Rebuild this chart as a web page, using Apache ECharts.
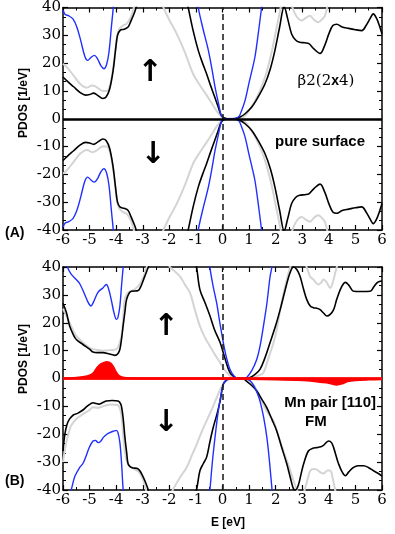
<!DOCTYPE html>
<html>
<head>
<meta charset="utf-8">
<script src="https://cdn.jsdelivr.net/npm/echarts@6/dist/echarts.min.js"></script>
<style>
  html, body { margin: 0; padding: 0; background: #fff; }
  #pdos { width: 395px; height: 534px; }
</style>
</head>
<body>
<div id="pdos"></div>
<script>
// ---- panel (A): beta2(2x4) pure surface, [E, PDOS] ----
const aBlackUp = [[-6,15],[-5.85,13.6],[-5.6,11.5],[-5.35,9.4],[-5.15,8.5],[-5.0,8.7],[-4.85,9.2],[-4.7,8.4],[-4.5,7.3],[-4.38,7.8],[-4.25,10.5],[-4.12,17],[-4.02,25],[-3.95,30],[-3.85,31.8],[-3.7,32.2],[-3.55,33],[-3.45,35],[-3.3,38.5],[-3.2,41.5],[-3.0,48],[-2.5,60],[-1.8,58],[-1.45,47],[-1.29,40],[-1.1,31.5],[-0.91,24.5],[-0.75,20],[-0.6,16.2],[-0.45,12],[-0.3,8],[-0.16,4.2],[-0.05,1.3],[0.1,0.2],[0.3,0],[0.5,0.1],[0.66,0.6],[0.85,1.8],[1.1,4.2],[1.35,8],[1.6,12.6],[1.8,18],[1.97,24.5],[2.15,33],[2.32,40.3],[2.45,36],[2.6,30.5],[2.75,28.3],[2.9,27.5],[3.1,27.3],[3.25,27],[3.45,25],[3.67,23.5],[3.85,26.5],[4.0,30.5],[4.15,33.5],[4.3,34],[4.5,33],[4.75,32.5],[5.0,32],[5.24,31.7],[5.4,33.5],[5.55,36],[5.67,37.7],[5.8,36],[5.9,33.5],[6,30.5]];
const aBlackDn = [[-6,-15],[-5.85,-13.6],[-5.6,-11.5],[-5.35,-9.4],[-5.15,-8.5],[-5.0,-8.7],[-4.85,-9.2],[-4.7,-8.4],[-4.5,-7.3],[-4.38,-7.8],[-4.25,-10.5],[-4.12,-17],[-4.02,-25],[-3.95,-30],[-3.85,-31.8],[-3.7,-32.2],[-3.55,-33],[-3.45,-35],[-3.3,-38.5],[-3.2,-41.5],[-3.0,-48],[-2.5,-60],[-1.8,-58],[-1.45,-47],[-1.29,-40],[-1.1,-31.5],[-0.91,-24.5],[-0.75,-20],[-0.6,-16.2],[-0.45,-12],[-0.3,-8],[-0.16,-4.2],[-0.05,-1.3],[0.1,-0.2],[0.3,0],[0.5,-0.1],[0.66,-0.6],[0.85,-1.8],[1.1,-4.2],[1.35,-8],[1.6,-12.6],[1.8,-18],[1.97,-24.5],[2.15,-33],[2.32,-40.3],[2.45,-36],[2.6,-30.5],[2.75,-28.3],[2.9,-27.5],[3.1,-27.3],[3.25,-27],[3.45,-25],[3.67,-23.5],[3.85,-26.5],[4.0,-30.5],[4.15,-33.5],[4.3,-34],[4.5,-33],[4.75,-32.5],[5.0,-32],[5.24,-31.7],[5.4,-33.5],[5.55,-36],[5.67,-37.7],[5.8,-36],[5.9,-33.5],[6,-30.5]];
const aGrayUp = [[-6,19.8],[-5.85,18.5],[-5.6,15.5],[-5.35,12.5],[-5.1,11.2],[-4.9,12],[-4.75,11.5],[-4.5,10],[-4.35,10],[-4.22,12.5],[-4.1,19],[-4.0,27],[-3.9,32],[-3.75,33.5],[-3.6,34.2],[-3.45,36.5],[-3.32,40.5],[-3.0,50],[-2.6,50],[-2.3,42],[-2.2,39.5],[-2.0,35.5],[-1.72,30.5],[-1.4,23.5],[-1.1,16],[-0.88,12.5],[-0.6,8.5],[-0.4,5.5],[-0.2,2.5],[0,0.5],[0.2,0],[0.5,0],[0.72,0.2],[0.95,2.3],[1.2,6],[1.45,11],[1.65,16.5],[1.85,24],[2.0,31],[2.15,38],[2.25,42],[2.45,44],[2.62,40.2],[2.73,37.7],[2.85,36],[2.98,35.3],[3.12,36.2],[3.29,37],[3.45,35.5],[3.6,34.7],[3.75,35.8],[3.85,37],[3.95,40.5],[4.1,46],[5,50],[6,50]];
const aGrayDn = [[-6,-19.8],[-5.85,-18.5],[-5.6,-15.5],[-5.35,-12.5],[-5.1,-11.2],[-4.9,-12],[-4.75,-11.5],[-4.5,-10],[-4.35,-10],[-4.22,-12.5],[-4.1,-19],[-4.0,-27],[-3.9,-32],[-3.75,-33.5],[-3.6,-34.2],[-3.45,-36.5],[-3.32,-40.5],[-3.0,-50],[-2.6,-50],[-2.3,-42],[-2.2,-39.5],[-2.0,-35.5],[-1.72,-30.5],[-1.4,-23.5],[-1.1,-16],[-0.88,-12.5],[-0.6,-8.5],[-0.4,-5.5],[-0.2,-2.5],[0,-0.5],[0.2,0],[0.5,0],[0.72,-0.2],[0.95,-2.3],[1.2,-6],[1.45,-11],[1.65,-16.5],[1.85,-24],[2.0,-31],[2.15,-38],[2.25,-42],[2.45,-44],[2.62,-40.2],[2.73,-37.7],[2.85,-36],[2.98,-35.3],[3.12,-36.2],[3.29,-37],[3.45,-35.5],[3.6,-34.7],[3.75,-35.8],[3.85,-37],[3.95,-40.5],[4.1,-46],[5,-50],[6,-50]];
const aBlueUp = [[-6,39],[-5.92,37.5],[-5.78,37],[-5.62,35.8],[-5.48,33],[-5.33,28],[-5.18,22.5],[-5.07,21],[-4.95,22],[-4.82,22.8],[-4.7,21.5],[-4.57,19],[-4.46,18],[-4.36,19.5],[-4.27,24],[-4.18,33],[-4.1,41],[-4.0,55],[-3,70],[-1.2,70],[-1.0,48],[-0.91,40],[-0.75,33],[-0.53,24.5],[-0.4,18],[-0.28,11.4],[-0.15,5.5],[-0.03,0.8],[0.1,0],[0.35,0],[0.6,0.6],[0.72,3],[0.85,6.6],[1.0,13],[1.1,17],[1.22,22.2],[1.35,31],[1.47,40],[1.6,50],[2,70],[6,70]];
const aBlueDn = [[-6,-39],[-5.92,-37.5],[-5.78,-37],[-5.62,-35.8],[-5.48,-33],[-5.33,-28],[-5.18,-22.5],[-5.07,-21],[-4.95,-22],[-4.82,-22.8],[-4.7,-21.5],[-4.57,-19],[-4.46,-18],[-4.36,-19.5],[-4.27,-24],[-4.18,-33],[-4.1,-41],[-4.0,-55],[-3,-70],[-1.2,-70],[-1.0,-48],[-0.91,-40],[-0.75,-33],[-0.53,-24.5],[-0.4,-18],[-0.28,-11.4],[-0.15,-5.5],[-0.03,-0.8],[0.1,0],[0.35,0],[0.6,-0.6],[0.72,-3],[0.85,-6.6],[1.0,-13],[1.1,-17],[1.22,-22.2],[1.35,-31],[1.47,-40],[1.6,-50],[2,-70],[6,-70]];

// ---- panel (B): Mn pair [110] FM ----
const bBlackUp = [[-6,27],[-5.87,23.6],[-5.75,18.8],[-5.6,15.5],[-5.5,14],[-5.25,12.2],[-5.0,10.5],[-4.87,9.5],[-4.7,9.3],[-4.5,9.3],[-4.25,8.8],[-4.05,8.3],[-3.93,9],[-3.86,10.5],[-3.8,14],[-3.74,18.8],[-3.67,24],[-3.61,28.3],[-3.5,30.8],[-3.42,31.3],[-3.17,31.6],[-3.05,33.5],[-2.95,36],[-2.85,38.5],[-2.75,41],[-2.5,50],[-1.5,50],[-1.05,43],[-0.97,39.6],[-0.85,31.9],[-0.65,27],[-0.47,22.4],[-0.3,17.5],[-0.09,12.9],[0.1,7],[0.28,2.1],[0.45,0.5],[0.6,0],[0.9,0],[1.04,0.4],[1.2,1.3],[1.41,3.3],[1.6,7.5],[1.79,12.9],[2.0,19],[2.17,24.7],[2.35,31.5],[2.54,37.9],[2.67,40],[2.8,39],[2.92,36.6],[3.05,32],[3.17,28.3],[3.3,26],[3.42,25.4],[3.55,25.2],[3.67,24.7],[3.8,23.5],[3.93,22.4],[4.05,23],[4.18,24.7],[4.3,28.5],[4.43,31.9],[4.55,34],[4.62,34.5],[4.75,33.5],[4.93,31.3],[5.2,31.2],[5.56,31.3],[5.7,33],[5.81,34.3],[5.9,34.8],[6,35]];
const bBlackDn = [[-6,-26],[-5.93,-20],[-5.85,-16.5],[-5.75,-14.5],[-5.6,-13],[-5.45,-12.5],[-5.25,-11.3],[-5.1,-10],[-4.95,-9],[-4.87,-8.7],[-4.75,-9],[-4.65,-9.2],[-4.5,-8.6],[-4.37,-8.1],[-4.15,-7.9],[-3.93,-8.1],[-3.85,-8.8],[-3.8,-10],[-3.74,-14],[-3.67,-21.2],[-3.6,-27],[-3.55,-30.7],[-3.45,-31.8],[-3.36,-32.1],[-3.2,-32.3],[-3.11,-33.1],[-3.0,-35],[-2.92,-36.7],[-2.8,-39.7],[-2.7,-43],[-2,-50],[-1.2,-48],[-0.97,-39.6],[-0.85,-33.1],[-0.72,-30.5],[-0.6,-28.3],[-0.48,-23],[-0.35,-17.6],[-0.2,-12.5],[-0.09,-8.1],[0.03,-2.1],[0.16,-0.5],[0.3,0],[0.75,0],[0.91,-1],[1.1,-2.5],[1.29,-4.5],[1.47,-7.3],[1.67,-10.5],[1.85,-14.5],[2.04,-18.8],[2.22,-24.5],[2.42,-30.7],[2.55,-35.5],[2.67,-39.6],[2.75,-40],[2.86,-38],[2.95,-34.5],[3.05,-30.7],[3.23,-26],[3.4,-25],[3.55,-24.8],[3.7,-24.5],[3.8,-24],[3.99,-22.4],[4.1,-23],[4.18,-24.8],[4.28,-28],[4.37,-30.7],[4.5,-33.5],[4.62,-34.9],[4.75,-33.5],[4.93,-31.9],[5.1,-31.3],[5.31,-31.3],[5.5,-32],[5.68,-33.1],[5.85,-34],[6,-35]];
const bGrayUp = [[-6,25],[-5.87,22.5],[-5.75,20],[-5.55,16],[-5.37,14],[-5.2,12.5],[-5.0,11],[-4.75,10.3],[-4.5,10],[-4.2,10.2],[-3.99,10.5],[-3.9,12],[-3.8,15.2],[-3.74,21],[-3.68,28.3],[-3.58,30.5],[-3.49,31.3],[-3.3,32],[-3.1,34],[-2.95,37],[-2.85,40],[-2.7,44],[-2.3,46],[-1.98,40],[-1.8,38.5],[-1.6,36.6],[-1.4,33.5],[-1.22,30.7],[-1.05,25],[-0.85,18.8],[-0.65,14.5],[-0.47,11.6],[-0.28,8.5],[-0.09,5.7],[0.16,2.1],[0.35,0.6],[0.55,0],[0.9,0],[1.16,0.4],[1.35,1],[1.54,2.1],[1.7,6.5],[1.92,12.9],[2.05,18],[2.17,24.7],[2.3,30.5],[2.42,35.5],[2.55,40],[2.7,43],[3.0,43],[3.2,39],[3.3,36.5],[3.42,35.5],[3.52,34.3],[3.61,33.7],[3.7,34.3],[3.8,35.5],[3.92,34.5],[4.05,32.5],[4.15,34.5],[4.24,37.9],[4.3,40],[4.4,44],[6,50]];
const bGrayDn = [[-6,-30],[-5.9,-24],[-5.8,-20],[-5.7,-17],[-5.5,-14.5],[-5.25,-12.8],[-5.0,-11.3],[-4.87,-10.3],[-4.7,-10.5],[-4.5,-10],[-4.2,-9.3],[-3.95,-9.5],[-3.85,-11],[-3.78,-15],[-3.72,-22],[-3.62,-29],[-3.5,-31.5],[-3.35,-32.3],[-3.15,-33.5],[-3.0,-36],[-2.9,-39],[-2.75,-44],[-2.3,-48],[-1.85,-39.6],[-1.6,-35.5],[-1.35,-31.9],[-1.15,-27.5],[-0.97,-23.6],[-0.8,-19.5],[-0.6,-15.2],[-0.4,-11],[-0.22,-6.9],[-0.05,-3.2],[0.1,-1.2],[0.3,-0.2],[0.8,-0.2],[1.0,-0.8],[1.16,-2.1],[1.3,-4.5],[1.41,-6.9],[1.6,-10.5],[1.75,-13],[1.92,-15.2],[2.1,-20.5],[2.29,-26],[2.5,-31.5],[2.67,-36.7],[2.8,-40],[2.95,-43],[3.15,-38],[3.3,-33.1],[3.45,-32.5],[3.55,-32.7],[3.7,-33.8],[3.8,-34.1],[3.95,-33],[4.05,-33],[4.15,-36],[4.24,-40],[4.4,-46],[6,-50]];
const bBlueUp = [[-6,48],[-5.85,40.5],[-5.7,37.5],[-5.5,35.5],[-5.37,34],[-5.2,30.5],[-5.05,27.2],[-4.95,26],[-4.85,27.5],[-4.68,31],[-4.5,32.5],[-4.37,33.7],[-4.28,32],[-4.18,28],[-4.08,23.5],[-3.99,21.2],[-3.93,22],[-3.86,26],[-3.8,33],[-3.74,39.6],[-3.65,48],[-2,60],[-0.6,50],[-0.47,39.6],[-0.35,33],[-0.22,27.1],[-0.1,20],[0.03,12.9],[0.15,7.5],[0.28,3.3],[0.45,0.7],[0.6,0],[0.8,0],[0.91,0.4],[1.1,2.8],[1.29,6.9],[1.42,12],[1.54,18.8],[1.67,27],[1.79,36.6],[1.86,40],[1.95,46],[3,60],[6,60]];
const bBlueDn = [[-6,-55],[-5.8,-44],[-5.68,-39.6],[-5.55,-35],[-5.37,-31.9],[-5.25,-30.5],[-5.12,-27.5],[-5.0,-24.5],[-4.87,-22.4],[-4.78,-22.2],[-4.68,-23],[-4.58,-22.5],[-4.49,-21.2],[-4.35,-20],[-4.24,-19.4],[-4.1,-18.9],[-3.99,-18.6],[-3.93,-19.5],[-3.86,-23],[-3.8,-30],[-3.74,-39.6],[-3.65,-50],[-2,-60],[-0.6,-50],[-0.47,-39.6],[-0.41,-33],[-0.35,-27],[-0.25,-18.5],[-0.16,-11.7],[-0.05,-5.5],[0.03,-2.1],[0.15,-0.4],[0.3,0],[0.8,0],[1.04,-0.8],[1.2,-3],[1.31,-5.3],[1.41,-8.1],[1.55,-14],[1.67,-21.2],[1.77,-30],[1.86,-39.6],[1.95,-48],[3,-60],[6,-60]];
const bMnUp = [[-6,0.1],[-5.5,0.3],[-5.2,0.6],[-5.0,1.1],[-4.85,2],[-4.72,3.8],[-4.6,5],[-4.45,5.7],[-4.35,5.9],[-4.2,5.4],[-4.1,4],[-4.0,2.2],[-3.9,1],[-3.75,0.4],[-3.5,0.1],[-2,0],[6,0]];
const bMnDn = [[-6,0],[0,0],[1,-0.2],[2,-0.4],[2.8,-0.5],[3.3,-0.8],[3.6,-1.2],[4.0,-1.6],[4.3,-2.2],[4.5,-1.8],[4.7,-1],[5,-0.6],[5.5,-0.4],[6,-0.3]];

const xTicks = [-6, 6, 1];
const yTicks = [-40, 40, 10];

const SERIF = 'DejaVu Serif';

let myChart = echarts.init(document.getElementById('pdos'));

function xAx(grid, pos) {
  return {
    type: 'value', gridIndex: grid, position: pos,
    min: xTicks[0], max: xTicks[1], interval: xTicks[2],
    axisLine: { show: true, onZero: false, lineStyle: { color: '#000', width: 1.5 } },
    axisTick: { show: true, inside: true, length: 5, lineStyle: { color: '#000', width: 1.2 } },
    minorTick: { show: true, splitNumber: 2, length: 3, lineStyle: { color: '#000', width: 1 } },
    axisLabel: { show: pos === 'bottom', margin: 3, color: '#000', fontFamily: SERIF, fontSize: 15 },
    splitLine: { show: false },
  };
}
function yAx(grid, pos) {
  return {
    type: 'value', gridIndex: grid, position: pos,
    min: yTicks[0], max: yTicks[1], interval: yTicks[2],
    axisLine: { show: true, onZero: false, lineStyle: { color: '#000', width: 1.5 } },
    axisTick: { show: true, inside: true, length: 5, lineStyle: { color: '#000', width: 1.2 } },
    minorTick: { show: true, splitNumber: 3, length: 3, lineStyle: { color: '#000', width: 1 } },
    axisLabel: { show: pos === 'left', margin: 2, color: '#000', fontFamily: SERIF, fontSize: 15 },
    splitLine: { show: false },
  };
}

function curve(data, axis, color, width, z) {
  return {
    type: 'line', data: data, xAxisIndex: axis, yAxisIndex: axis,
    smooth: 0.35, symbol: 'none', clip: true, z: z,
    lineStyle: { color: color, width: width },
  };
}
function mn(data) {
  return {
    type: 'line', data: data, xAxisIndex: 2, yAxisIndex: 2,
    smooth: 0.3, symbol: 'none', z: 6,
    lineStyle: { color: '#ff0000', width: 2 },
    areaStyle: { color: '#ff0000', opacity: 1 },
  };
}
// dashed Fermi level + zero line
function guides(axis, zeroColor) {
  return {
    type: 'line', data: [], xAxisIndex: axis, yAxisIndex: axis, z: 7,
    markLine: {
      silent: true, symbol: 'none', label: { show: false }, animation: false,
      data: [
        { xAxis: 0, lineStyle: { color: '#222', width: 1.6, type: [6, 4] } },
        { yAxis: 0, lineStyle: { color: zeroColor, width: 2.5, type: 'solid' } },
      ],
    },
  };
}
function txt(x, y, text, size, align, extra) {
  return Object.assign({
    type: 'text', x: x, y: y,
    style: { text: text, fontFamily: 'Liberation Sans', fontWeight: 'bold', fontSize: size,
      fill: '#000', align: align, verticalAlign: 'middle' },
  }, extra || {});
}
function arrow(x, y, ch) {
  return {
    type: 'text', x: x, y: y,
    style: { text: ch, fontFamily: 'DejaVu Sans', fontWeight: 'bold', fontSize: 30,
      fill: '#000', align: 'center', verticalAlign: 'middle' },
  };
}

const GRAY = '#d4d4d4', BLACK = '#000', BLUE = '#1f2fff';

const option = {
  animation: false,
  grid: [
    { left: 63, top: 7, width: 319, height: 223 },
    { left: 63, top: 267, width: 319, height: 223 },
  ],
  xAxis: [xAx(0, 'bottom'), xAx(0, 'top'), xAx(1, 'bottom'), xAx(1, 'top')],
  yAxis: [yAx(0, 'left'), yAx(0, 'right'), yAx(1, 'left'), yAx(1, 'right')],
  series: [
    curve(aGrayUp, 0, GRAY, 2, 2), curve(aGrayDn, 0, GRAY, 2, 2),
    curve(aBlackUp, 0, BLACK, 1.6, 3), curve(aBlackDn, 0, BLACK, 1.6, 3),
    curve(aBlueUp, 0, BLUE, 1.4, 4), curve(aBlueDn, 0, BLUE, 1.4, 4),
    guides(0, '#000'),
    curve(bGrayUp, 2, GRAY, 2, 2), curve(bGrayDn, 2, GRAY, 2, 2),
    curve(bBlackUp, 2, BLACK, 1.6, 3), curve(bBlackDn, 2, BLACK, 1.6, 3),
    curve(bBlueUp, 2, BLUE, 1.4, 4), curve(bBlueDn, 2, BLUE, 1.4, 4),
    guides(2, '#ff0000'),
    mn(bMnUp), mn(bMnDn),
  ],
  graphic: [
    txt(24, 103, 'PDOS [1/eV]', 12, 'center', { rotation: Math.PI / 2 }),
    txt(24, 359, 'PDOS [1/eV]', 12, 'center', { rotation: Math.PI / 2 }),
    txt(5, 233, '(A)', 14, 'left'),
    txt(5, 481, '(B)', 14, 'left'),
    txt(228, 523, 'E [eV]', 12, 'center'),
    arrow(150, 73, '↑'), arrow(153, 155, '↓'),
    arrow(166, 327, '↑'), arrow(166, 423, '↓'),
    { type: 'text', x: 326, y: 81,
      style: { text: '{s|β2(2}{b|x}{s|4)}', align: 'center', verticalAlign: 'middle',
        rich: {
          s: { fontFamily: SERIF, fontSize: 15, fill: '#000' },
          b: { fontFamily: 'Liberation Sans', fontWeight: 'bold', fontSize: 14, fill: '#000' },
        } } },
    txt(365, 142, 'pure surface', 15, 'right'),
    txt(376, 403, 'Mn pair [110]', 15, 'right'),
    txt(305, 422, 'FM', 15, 'left'),
  ],
};

myChart.setOption(option);
</script>
</body>
</html>
